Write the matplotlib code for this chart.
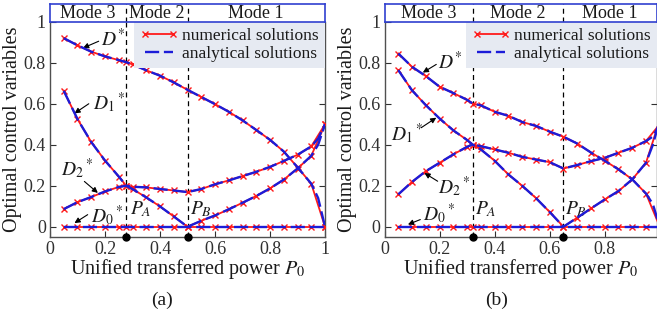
import matplotlib
matplotlib.use("Agg")
import matplotlib.pyplot as plt
import numpy as np

plt.rcParams['font.family'] = 'Liberation Serif'
plt.rcParams['mathtext.fontset'] = 'stix'

# ---- data ----
# (a)
PA_a, PB_a = 0.277, 0.5
xa = [0.05, 0.1, 0.15, 0.2, 0.25, 0.277, 0.3, 0.35, 0.4, 0.45, 0.5,
      0.55, 0.6, 0.65, 0.7, 0.75, 0.8, 0.85, 0.9, 0.95, 1.0]
Da_star = [0.92, 0.885, 0.854, 0.831, 0.813, 0.803, 0.792, 0.763, 0.737, 0.704, 0.668,
           0.633, 0.598, 0.561, 0.519, 0.472, 0.424, 0.367, 0.29, 0.21, 0.0]
Da1 = [0.663, 0.525, 0.413, 0.323, 0.245, 0.2, 0.184, 0.143, 0.099, 0.05, 0.0,
       0.029, 0.055, 0.085, 0.117, 0.15, 0.187, 0.23, 0.284, 0.346, 0.5]
Da2 = [0.086, 0.12, 0.145, 0.172, 0.194, 0.2, 0.195, 0.192, 0.184, 0.177, 0.169,
       0.184, 0.207, 0.226, 0.247, 0.268, 0.292, 0.321, 0.351, 0.392, 0.5]
Da0 = [0.0] * 21
# analytical curves deviate a little at the very end
xa_end = 0.975
Da_end = [0.14, 0.40, 0.43, 0.0]   # D*, D1, D2, D0

# (b)
PA_b, PB_b = 0.32, 0.65
xb = [0.05, 0.1, 0.15, 0.2, 0.25, 0.3, 0.32, 0.35, 0.4, 0.45, 0.5,
      0.55, 0.6, 0.65, 0.7, 0.75, 0.8, 0.85, 0.9, 0.95, 1.0]
Db_star = [0.845, 0.78, 0.735, 0.683, 0.652, 0.619, 0.601, 0.592, 0.561, 0.541, 0.511,
           0.492, 0.464, 0.439, 0.406, 0.362, 0.322, 0.28, 0.231, 0.162, 0.0]
Db1 = [0.764, 0.665, 0.593, 0.528, 0.47, 0.423, 0.401, 0.377, 0.322, 0.255, 0.2,
       0.14, 0.072, 0.0, 0.044, 0.089, 0.133, 0.174, 0.231, 0.312, 0.52]
Db2 = [0.158, 0.219, 0.271, 0.312, 0.353, 0.39, 0.401, 0.393, 0.377, 0.361, 0.341,
       0.328, 0.315, 0.284, 0.301, 0.32, 0.336, 0.361, 0.385, 0.418, 0.5]
Db0 = [0.0] * 21
xb_end = 0.975
Db_end = [0.11, 0.40, 0.44, 0.0]

yticks = [0, 0.2, 0.4, 0.6, 0.8, 1]
ytick_labels = ['0', '0.2', '0.4', '0.6', '0.8', '1']
xticks_a = [0, 0.2, 0.4, 0.6, 0.8, 1]
xtick_labels_a = ['0', '0.2', '0.4', '0.6', '0.8', '1']
xticks_b = [0, 0.2, 0.4, 0.6, 0.8]
xtick_labels_b = ['0', '0.2', '0.4', '0.6', '0.8']

RED = '#ff1a1a'
BLUE = '#1c1cd8'
BAND = '#3040d0'
TXT = '#1a1a1a'


def with_end(x, y, xe, ye):
    x2 = list(x[:-1]) + [xe, x[-1]]
    y2 = list(y[:-1]) + [ye, y[-1]]
    return x2, y2


def panel(fig, rect, xmax, xt, xtl, x, curves, xe, ends, PA, PB, notes, tag, tagx):
    l, b, w, h = rect
    ax = fig.add_axes([l, b, w, h])
    band = fig.add_axes([l, b + h, w, 0.0555])

    for i, y in enumerate(curves):
        lab1 = 'numerical solutions' if i == 0 else None
        lab2 = 'analytical solutions' if i == 0 else None
        ax.plot(x, y, '-', color=RED, lw=1.3, marker='x', ms=5, mew=1.0,
                label=lab1, zorder=3)
        xa2, ya2 = with_end(x, y, xe, ends[i])
        ax.plot(xa2, ya2, '--', color=BLUE, lw=1.7, dashes=(6, 2),
                label=lab2, zorder=4)

    for p in (PA, PB):
        ax.plot([p, p], [-0.05, 1.0], color='k', lw=0.9, dashes=(4, 3), zorder=2)
        band.plot([p, p], [0, 1], color='k', lw=0.9, dashes=(4, 3))
    ax.plot([PA, PB], [-0.05, -0.05], 'o', color='k', ms=5, clip_on=False, zorder=6)

    ax.set_xlim(0, xmax)
    ax.set_ylim(-0.05, 1.0)
    ax.set_yticks(yticks)
    ax.set_yticklabels(ytick_labels)
    ax.set_xticks(xt)
    ax.set_xticklabels(xtl)
    ax.tick_params(direction='in', length=4, labelsize=13, colors='#303030',
                   right=True, top=False, pad=3)
    for s in ('left', 'bottom', 'right'):
        ax.spines[s].set_color('#505050')
        ax.spines[s].set_linewidth(1.0)
    ax.spines['top'].set_visible(False)
    ax.set_xlabel(r'Unified transferred power $P_0$', fontsize=14.5, color=TXT, labelpad=-1)
    ax.set_ylabel('Optimal control variables', fontsize=14.5, color=TXT, labelpad=1)

    leg = ax.legend(loc='upper right', fontsize=12.5, frameon=True, fancybox=False,
                    borderaxespad=0.0, borderpad=0.35, labelspacing=0.1,
                    handlelength=2.2, handletextpad=0.25, numpoints=2)
    leg.get_frame().set_facecolor('#e6eaf2')
    leg.get_frame().set_edgecolor('none')
    leg.get_frame().set_alpha(1)
    for t in leg.get_texts():
        t.set_color(TXT)

    band.set_xlim(0, xmax)
    band.set_ylim(0, 1)
    band.set_xticks([])
    band.set_yticks([])
    for s in band.spines.values():
        s.set_color(BAND)
        s.set_linewidth(1.2)
    for xc, txt in ((PA / 2, 'Mode 3'), ((PA + PB) / 2, 'Mode 2'), ((PB + xmax) / 2, 'Mode 1')):
        band.text(xc, 0.45, txt, ha='center', va='center', fontsize=13, color=TXT)

    for txt, tpos, start, tip in notes:
        ax.text(tpos[0], tpos[1], txt, fontsize=14, color=TXT, ha='left', va='center')
        if start is not None:
            ax.annotate('', xy=tip, xytext=start,
                        arrowprops=dict(arrowstyle='-|>', color='k', lw=0.8,
                                        mutation_scale=8, shrinkA=0, shrinkB=0))
    fig.text(tagx, 0.0625, tag, fontsize=14, ha='center', va='center', color=TXT)
    return ax


fig = plt.figure(figsize=(6.57, 3.2), dpi=100)

notes_a = [
    (r'$D^{\!*}$', (0.185, 0.915), (0.177, 0.905), (0.12, 0.872)),
    (r'$D_1{}^*$', (0.155, 0.605), (0.141, 0.6), (0.089, 0.553)),
    (r'$D_2{}^*$', (0.04, 0.285), (0.125, 0.221), (0.174, 0.165)),
    (r'$D_0{}^*$', (0.15, 0.055), (0.137, 0.059), (0.089, 0.018)),
    (r'$P_A$', (0.29, 0.085), None, None),
    (r'$P_B$', (0.508, 0.085), None, None),
]
notes_b = [
    (r'$D^{\!*}$', (0.193, 0.805), (0.188, 0.792), (0.139, 0.752)),
    (r'$D_1{}^*$', (0.024, 0.455), (0.133, 0.483), (0.188, 0.532)),
    (r'$D_2{}^*$', (0.193, 0.195), (0.193, 0.222), (0.145, 0.262)),
    (r'$D_0{}^*$', (0.14, 0.065), (0.13, 0.035), (0.085, 0.011)),
    (r'$P_A$', (0.327, 0.085), None, None),
    (r'$P_B$', (0.655, 0.085), None, None),
]

panel(fig, [0.0761, 0.2594, 0.4186, 0.6726], 1.0, xticks_a, xtick_labels_a, xa,
      [Da_star, Da1, Da2, Da0], xa_end, Da_end, PA_a, PB_a, notes_a, '(a)', 0.2466)
panel(fig, [0.5853, 0.2594, 0.4147, 0.6726], 0.99, xticks_b, xtick_labels_b, xb,
      [Db_star, Db1, Db2, Db0], xb_end, Db_end, PA_b, PB_b, notes_b, '(b)', 0.7565)

fig.savefig('out.png', dpi=100)
